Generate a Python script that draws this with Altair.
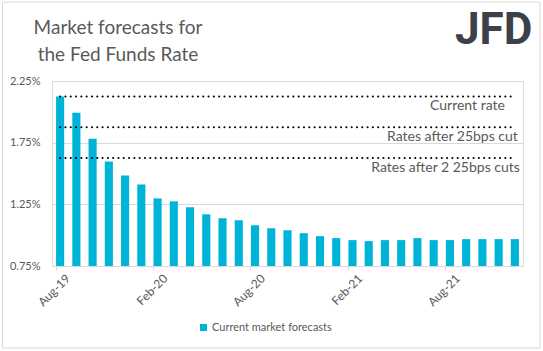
import altair as alt
import pandas as pd

months = ["Aug-19","Sep-19","Oct-19","Nov-19","Dec-19","Jan-20","Feb-20","Mar-20","Apr-20","May-20",
          "Jun-20","Jul-20","Aug-20","Sep-20","Oct-20","Nov-20","Dec-20","Jan-21","Feb-21","Mar-21",
          "Apr-21","May-21","Jun-21","Jul-21","Aug-21","Sep-21","Oct-21","Nov-21","Dec-21"]
forecasts = [2.124, 1.992, 1.782, 1.597, 1.484, 1.411, 1.298, 1.274, 1.226, 1.169,
             1.137, 1.121, 1.081, 1.056, 1.040, 1.016, 0.992, 0.976, 0.960, 0.952,
             0.960, 0.960, 0.976, 0.960, 0.960, 0.968, 0.968, 0.968, 0.968]
series_name = "Current market forecasts"
ref_labels = ["Current rate", "Rates after 25bps cut", "Rates after 2 25bps cuts"]
ref_values = [2.125, 1.875, 1.625]
tick_labels = ["Aug-19", "Feb-20", "Aug-20", "Feb-21", "Aug-21"]
y_ticks = [0.75, 1.25, 1.75, 2.25]
title_lines = ["Market forecasts for", "the Fed Funds Rate"]

FONT = "Lato"
GREY = "#595959"
BAR = "#00B4D9"

df = pd.DataFrame({"month": months, "value": forecasts, "series": series_name})
refs = pd.DataFrame({"label": ref_labels, "value": ref_values,
                     "start": months[0], "end": months[-1]})

W, H = 471, 185

xscale = alt.Scale(domain=months, paddingInner=0.5, paddingOuter=0.25)
yscale = alt.Scale(domain=[0.75, 2.25], nice=False, zero=False)

bars = alt.Chart(df).mark_bar().encode(
    x=alt.X("month:O", scale=xscale,
            axis=alt.Axis(values=tick_labels, title=None, labelAngle=-45, labelAlign="right",
                          labelBaseline="middle", labelOffset=8, labelPadding=6, bandPosition=0,
                          tickSize=4, tickColor="#d9d9d9", domainColor="#d9d9d9",
                          labelColor=GREY, labelFont=FONT, labelFontSize=12, grid=False)),
    y=alt.Y("value:Q", scale=yscale,
            axis=alt.Axis(values=y_ticks, title=None, labelExpr="format(datum.value, '.2f') + '%'",
                          domain=False, ticks=False, labelPadding=12, gridColor="#d9d9d9",
                          labelColor=GREY, labelFont=FONT, labelFontSize=11)),
    y2=alt.datum(0.75),
    color=alt.Color("series:N", scale=alt.Scale(range=[BAR]),
                    legend=alt.Legend(title=None, orient="none", legendX=146, legendY=241,
                                      symbolType="square", symbolSize=49, symbolStrokeWidth=0,
                                      labelFont=FONT, labelFontSize=11, labelColor=GREY,
                                      labelOffset=3)),
)

rules = alt.Chart(refs).mark_rule(color="black", strokeWidth=2, strokeDash=[0.1, 5.2],
                                  strokeCap="round").encode(
    x=alt.X("start:O", scale=xscale),
    x2="end:O",
    y=alt.Y("value:Q", scale=yscale),
)

label_dx = [-10, 3, 5]
label_layers = []
for lab, dx in zip(ref_labels, label_dx):
    label_layers.append(
        alt.Chart(refs).transform_filter(alt.datum.label == lab).mark_text(
            align="right", baseline="middle", dx=dx, dy=10, font=FONT, fontSize=14, color=GREY
        ).encode(x=alt.X("end:O", scale=xscale), y=alt.Y("value:Q", scale=yscale), text="label:N")
    )

decor = alt.Data(values=[{}])
title = alt.Chart(decor).mark_text(
    text=title_lines, align="center", baseline="alphabetic", lineHeight=27,
    font=FONT, fontSize=19, color=GREY
).encode(x=alt.value(66), y=alt.value(-47))

logo = alt.Chart(decor).mark_text(
    text="JFD", align="left", baseline="alphabetic", font="Roboto", fontWeight="bold",
    fontSize=44, color="#3b4049"
).encode(x=alt.value(403), y=alt.value(-37))

border = alt.Chart(decor).mark_rect(fill=None, stroke="#d9d9d9", strokeWidth=1).encode(
    x=alt.value(-49.5), x2=alt.value(488), y=alt.value(-79), y2=alt.value(267)
)

chart = alt.layer(bars, rules, *label_layers, title, logo, border).properties(
    width=W, height=H,
    padding={"left": 52, "top": 81, "right": 20, "bottom": 85},
    autosize=alt.AutoSizeParams(type="none"),
).configure_view(stroke=None).configure(background="white")

chart.save("out.html", embed_options={"renderer": "svg", "actions": False})
